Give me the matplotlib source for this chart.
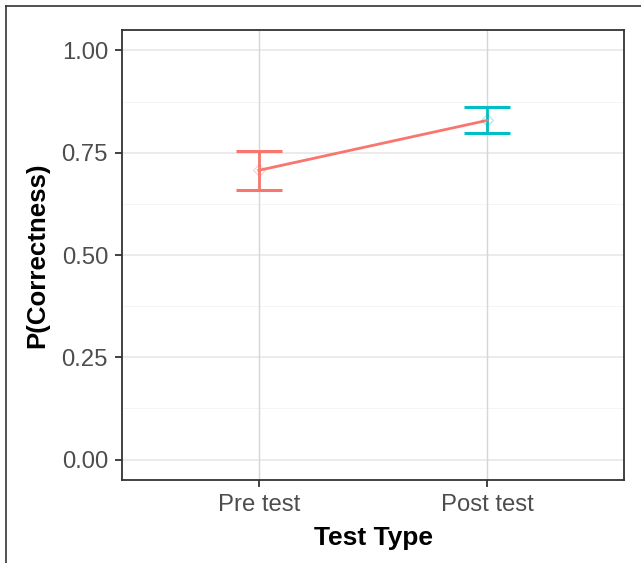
import matplotlib
matplotlib.use("Agg")
import matplotlib.pyplot as plt
from matplotlib.lines import Line2D
import numpy as np

# data
test_types = ["Pre test", "Post test"]
means = [0.707, 0.829]
lower = [0.660, 0.797]
upper = [0.754, 0.863]
colors = ["#F8766D", "#00BFC4"]
y_ticks = [0.0, 0.25, 0.5, 0.75, 1.0]
y_labels = ["0.00", "0.25", "0.50", "0.75", "1.00"]

plt.rcParams['font.family'] = ['Liberation Sans', 'DejaVu Sans']

fig = plt.figure(figsize=(6.41, 5.63), dpi=100)
ax = fig.add_axes([122/641, 1 - 480/563, 502/641, 450/563])

x = np.arange(1, len(test_types) + 1)

# grid like theme_bw
for yv in np.arange(0.125, 1.0, 0.25):
    ax.axhline(yv, color="#F2F2F2", lw=0.6, zorder=0)
for yv in y_ticks:
    ax.axhline(yv, color="#E5E5E5", lw=1.1, zorder=0)
for xv in x:
    ax.axvline(xv, color="#D6D6D6", lw=1.0, zorder=0)

ax.plot(x, means, color=colors[0], lw=2, zorder=3)
for i in range(len(x)):
    ax.errorbar(x[i], means[i],
                yerr=[[means[i] - lower[i]], [upper[i] - means[i]]],
                fmt="none", ecolor=colors[i], elinewidth=2, capsize=0, zorder=2)
    ax.hlines([lower[i], upper[i]], x[i] - 0.1, x[i] + 0.1, colors=colors[i], lw=2.2, zorder=2)
    ax.plot(x[i], means[i], marker="D", ms=6, mfc="none", mec=colors[i], alpha=0.35, mew=0.8, zorder=4)

ax.set_xlim(0.4, 2.6)
ax.set_ylim(-0.05, 1.05)
ax.set_xticks(x)
ax.set_xticklabels(test_types)
ax.set_yticks(y_ticks)
ax.set_yticklabels(y_labels)
ax.tick_params(axis="both", labelsize=17.2, labelcolor="#4D4D4D", color="#333333",
               length=5, width=1.3)
ax.tick_params(axis="y", pad=5)
ax.tick_params(axis="x", pad=5)
for s in ax.spines.values():
    s.set_color("#333333")
    s.set_linewidth(1.3)

ax.set_xlabel("Test Type", fontsize=19, fontweight="bold", labelpad=7)
ax.set_ylabel("P(Correctness)", fontsize=18.6, fontweight="bold", labelpad=9)

# outer frame visible at top and left of the reference
fig.add_artist(Line2D([6/641, 6/641], [0, 1 - 6/563], transform=fig.transFigure, color="#333333", lw=1.2))
fig.add_artist(Line2D([6/641, 1], [1 - 6/563, 1 - 6/563], transform=fig.transFigure, color="#333333", lw=1.2))

fig.savefig("out.png", dpi=100)
